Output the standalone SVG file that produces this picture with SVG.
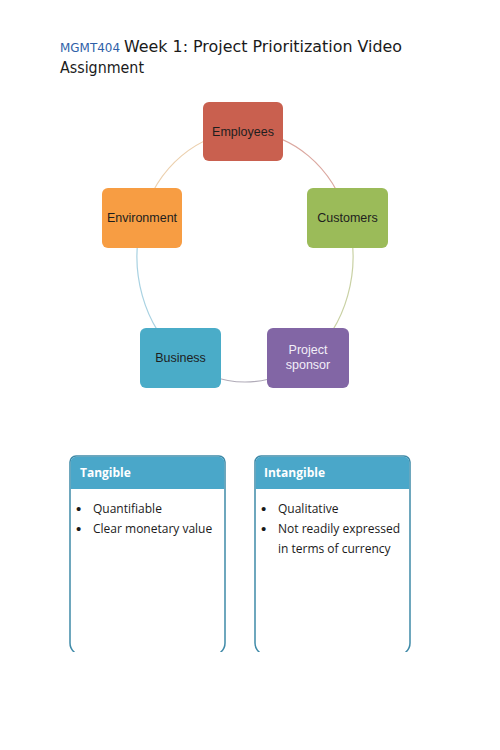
<svg xmlns="http://www.w3.org/2000/svg" width="500" height="750" viewBox="0 0 500 750">
<defs>
<clipPath id="cut"><rect x="0" y="0" width="500" height="652"/></clipPath>
</defs>
<style>
.title{font-family:"DejaVu Sans","Liberation Sans",sans-serif;font-size:16px;fill:#1a1a1a}
.code{font-family:"DejaVu Sans","Liberation Sans",sans-serif;font-size:12.5px;fill:#2f5fa8}
.node{font-family:"Liberation Sans",Arial,sans-serif;font-size:12.5px;fill:#1e1e1e;text-anchor:middle}
.nodew{font-family:"Liberation Sans",Arial,sans-serif;font-size:12.5px;fill:#f2eef8;text-anchor:middle}
.arc{fill:none;stroke-width:1.2}
.hdr{font-family:"Open Sans","Liberation Sans",sans-serif;font-size:12px;font-weight:bold;fill:#ffffff}
.item{font-family:"Open Sans","Liberation Sans",sans-serif;font-size:12px;fill:#1a1a1a}
.bul{font-family:"Liberation Sans",sans-serif;font-size:15px;fill:#1a1a1a}
.panel{fill:#ffffff;stroke:#3f8aa8;stroke-width:1.5}
</style>
<rect width="500" height="750" fill="#ffffff"/>
<g id="title">
<text x="60" y="52"><tspan class="code" textLength="60" lengthAdjust="spacingAndGlyphs">MGMT404</tspan></text>
<text class="title" x="124" y="52" textLength="278" lengthAdjust="spacingAndGlyphs">Week 1: Project Prioritization Video</text>
<text class="title" x="60" y="73" textLength="84" lengthAdjust="spacingAndGlyphs">Assignment</text>
</g>
<g id="connectors">
<path class="arc" stroke="#dba8a0" d="M245,132 A108,125 0 0 1 347.7,218.4"/>
<path class="arc" stroke="#c9d1a4" d="M347.7,218.4 A108,125 0 0 1 308.5,358.1"/>
<path class="arc" stroke="#b0abb8" stroke-width="2" d="M308.5,358.1 A108,125 0 0 1 181.5,358.1"/>
<path class="arc" stroke="#a9d2e2" d="M181.5,358.1 A108,125 0 0 1 142.3,218.4"/>
<path class="arc" stroke="#ecd0ae" d="M142.3,218.4 A108,125 0 0 1 245,132"/>
</g>
<g id="employees">
<rect x="203" y="102" width="80" height="59" rx="6" fill="#c9604f"/>
<text class="node" x="243" y="136">Employees</text>
</g>
<g id="customers">
<rect x="307" y="188" width="81" height="60" rx="6" fill="#9bbb59"/>
<text class="node" x="347.5" y="222">Customers</text>
</g>
<g id="project-sponsor">
<rect x="267" y="328" width="82" height="60" rx="6" fill="#8266a5"/>
<text class="nodew" x="308" y="354">Project</text>
<text class="nodew" x="308" y="369">sponsor</text>
</g>
<g id="business">
<rect x="140" y="328" width="81" height="60" rx="6" fill="#4aacc8"/>
<text class="node" x="180.5" y="362">Business</text>
</g>
<g id="environment">
<rect x="102" y="188" width="80" height="60" rx="6" fill="#f79d43"/>
<text class="node" x="142" y="222">Environment</text>
</g>
<g id="tangible">
<path class="panel" clip-path="url(#cut)" d="M70,643 L70,462 A6,6 0 0 1 76,456 L219,456 A6,6 0 0 1 225,462 L225,643 A12,12 0 0 1 213,655 L82,655 A12,12 0 0 1 70,643 Z"/>
<path d="M70.75,489 L70.75,462 A5.25,5.25 0 0 1 76,456.75 L219,456.75 A5.25,5.25 0 0 1 224.25,462 L224.25,489 Z" fill="#4aa7c9"/>
<text class="hdr" x="80" y="477">Tangible</text>
<text class="bul" x="76" y="514">•</text>
<text class="item" x="93" y="513">Quantifiable</text>
<text class="bul" x="76" y="534">•</text>
<text class="item" x="93" y="533">Clear monetary value</text>
</g>
<g id="intangible">
<path class="panel" clip-path="url(#cut)" d="M255,643 L255,462 A6,6 0 0 1 261,456 L404,456 A6,6 0 0 1 410,462 L410,643 A12,12 0 0 1 398,655 L267,655 A12,12 0 0 1 255,643 Z"/>
<path d="M255.75,489 L255.75,462 A5.25,5.25 0 0 1 261,456.75 L404,456.75 A5.25,5.25 0 0 1 409.25,462 L409.25,489 Z" fill="#4aa7c9"/>
<text class="hdr" x="264" y="477">Intangible</text>
<text class="bul" x="261" y="514">•</text>
<text class="item" x="278" y="513">Qualitative</text>
<text class="bul" x="261" y="534">•</text>
<text class="item" x="278" y="533">Not readily expressed</text>
<text class="item" x="278" y="553">in terms of currency</text>
</g>
</svg>
